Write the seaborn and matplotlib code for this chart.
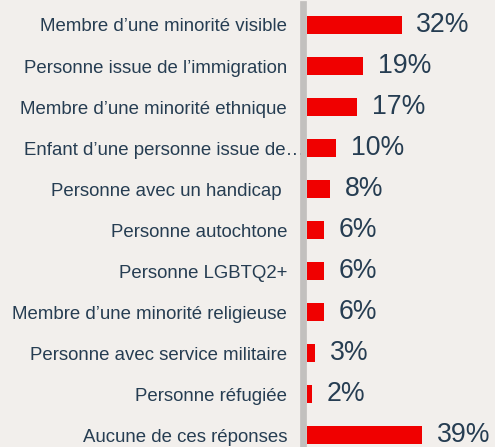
import matplotlib
matplotlib.use("Agg")
import matplotlib.pyplot as plt
import matplotlib.transforms as mtransforms
import seaborn as sns
import pandas as pd

categories = [
    "Membre d’une minorité visible",
    "Personne issue de l’immigration",
    "Membre d’une minorité ethnique",
    "Enfant d’une personne issue de…",
    "Personne avec un handicap ",
    "Personne autochtone",
    "Personne LGBTQ2+",
    "Membre d’une minorité religieuse",
    "Personne avec service militaire",
    "Personne réfugiée",
    "Aucune de ces réponses",
]
values = [32, 19, 17, 10, 8, 6, 6, 6, 3, 2, 39]
value_labels = [f"{v}%" for v in values]

BG = "#f2efec"
RED = "#f00000"
TEXT = "#263d52"
AXIS_GREY = "#c2c0be"

df = pd.DataFrame({"categorie": categories, "pourcentage": values})

sns.set_theme(style="white")
plt.rcParams["font.family"] = ["Liberation Sans", "DejaVu Sans"]

W, H = 495, 447
fig = plt.figure(figsize=(W / 100, H / 100), dpi=100, facecolor=BG)
left_px, top_px, bottom_px = 306.5, 4, 447
ax = fig.add_axes([left_px / W, 1 - bottom_px / H, (W - left_px) / W, (bottom_px - top_px) / H])
ax.set_facecolor(BG)

sns.barplot(data=df, x="pourcentage", y="categorie", orient="h", color=RED,
            saturation=1, width=0.44, edgecolor="none", ax=ax)

ax.set_xlim(0, (W - left_px) / 2.97)
ax.set_ylim(10.29, -0.512)

for i, (v, lab) in enumerate(zip(values, value_labels)):
    ax.annotate(lab, xy=(v, i), xytext=(10.5, 0), textcoords="offset points",
                ha="left", va="center", fontsize=19.2, color=TEXT)

for s in ["top", "right", "bottom"]:
    ax.spines[s].set_visible(False)
left_spine = ax.spines["left"]
left_spine.set_color(AXIS_GREY)
left_spine.set_linewidth(6.7 * 72 / 100)
left_spine.set_position(("outward", 3.8 * 72 / 100))
left_spine.set_zorder(1.0)  # keep the category labels above the axis line

ax.set_xticks([])
ax.set_xlabel("")
ax.set_ylabel("")
ax.tick_params(axis="y", length=0, pad=11.2, labelsize=13.45, labelcolor=TEXT)

# the truncated label runs past the common right edge, up onto the axis line
shift = mtransforms.ScaledTranslation(17 / 100, 0, fig.dpi_scale_trans)
for lbl in ax.get_yticklabels():
    if lbl.get_text().endswith("…"):
        lbl.set_transform(lbl.get_transform() + shift)

fig.savefig("out.png", dpi=100, facecolor=BG)
